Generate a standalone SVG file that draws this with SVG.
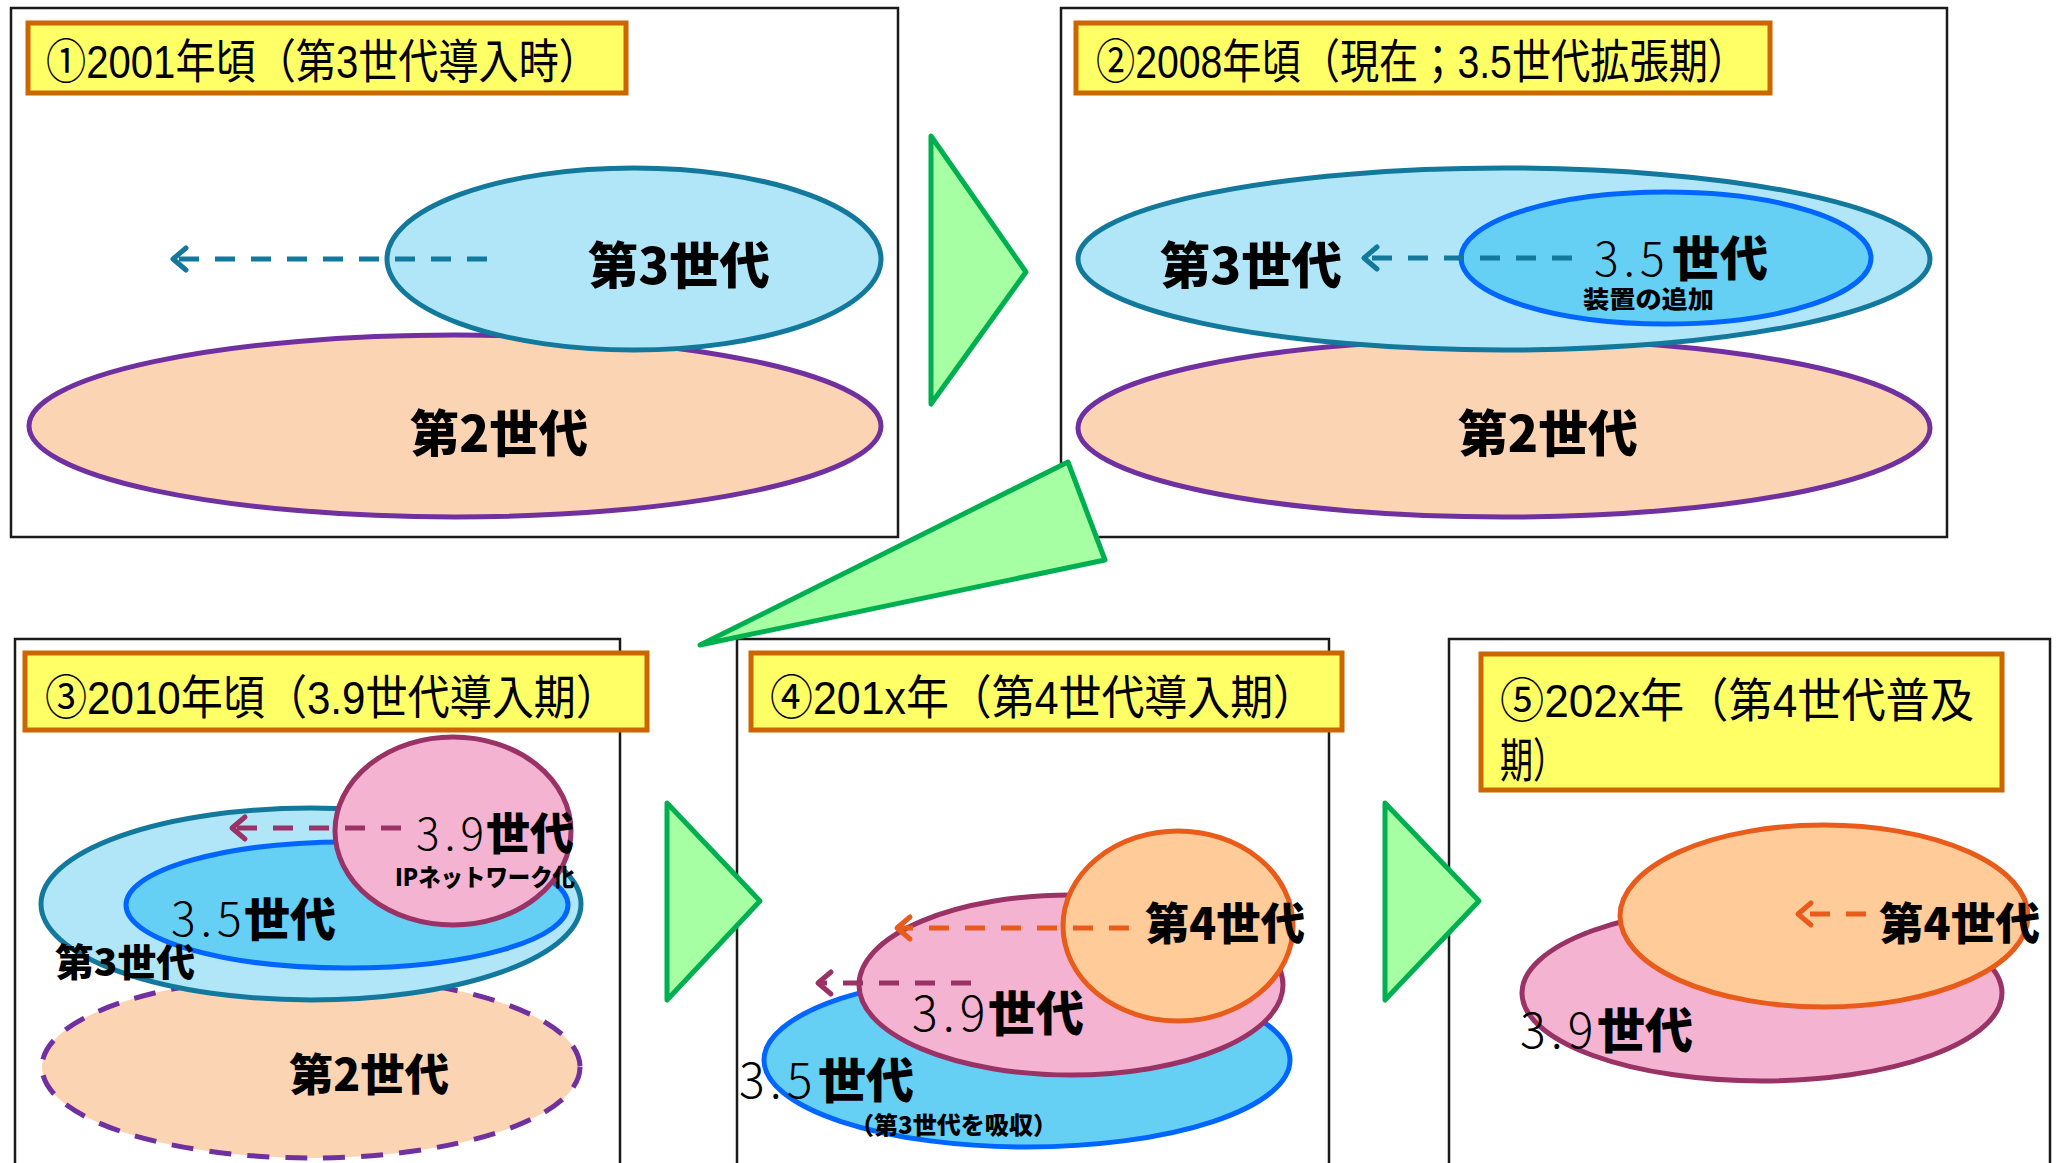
<svg xmlns="http://www.w3.org/2000/svg" width="2063" height="1163" viewBox="0 0 2063 1163">
<style>
.panel{fill:#fff;stroke:#1a1a1a;stroke-width:2.5}
.tbox{fill:#FFFF66;stroke:#CC6600;stroke-width:5}
.ttl{font-family:"Liberation Sans","Noto Sans CJK JP",sans-serif;font-size:47px;fill:#000}
.g3{fill:#B0E6F8;stroke:#12789C;stroke-width:5}
.g35{fill:#66CFF4;stroke:#0066FF;stroke-width:5}
.g2{fill:#FBD4B3;stroke:#7030A0;stroke-width:5}
.g2d{fill:#FBD4B3;stroke:#7030A0;stroke-width:5;stroke-dasharray:22 16}
.g39{fill:#F4B3D1;stroke:#993366;stroke-width:5}
.g4{fill:#FFCC99;stroke:#E85B1A;stroke-width:5}
.tri{fill:#A6FFA3;stroke:#00B050;stroke-width:5;stroke-linejoin:round}
.heavy{font-family:"Noto Sans CJK JP",sans-serif;font-weight:900;fill:#000}
.thin{font-family:"Noto Sans CJK JP",sans-serif;font-weight:300;fill:#000}
.dash{fill:none;stroke-width:5;stroke-dasharray:20 16}
</style>
<defs>
<marker id="hTeal" markerUnits="userSpaceOnUse" markerWidth="40" markerHeight="40" viewBox="-20 -20 40 40" refX="0" refY="0" orient="auto" overflow="visible"><path d="M-13,-11 L0,0 L-13,11" fill="none" stroke="#12789C" stroke-width="5" stroke-linecap="round" stroke-linejoin="round"/></marker>
<marker id="hMaroon" markerUnits="userSpaceOnUse" markerWidth="40" markerHeight="40" viewBox="-20 -20 40 40" refX="0" refY="0" orient="auto" overflow="visible"><path d="M-13,-11 L0,0 L-13,11" fill="none" stroke="#993366" stroke-width="5" stroke-linecap="round" stroke-linejoin="round"/></marker>
<marker id="hOrange" markerUnits="userSpaceOnUse" markerWidth="40" markerHeight="40" viewBox="-20 -20 40 40" refX="0" refY="0" orient="auto" overflow="visible"><path d="M-13,-11 L0,0 L-13,11" fill="none" stroke="#E85B1A" stroke-width="5" stroke-linecap="round" stroke-linejoin="round"/></marker>
</defs>
<rect width="2063" height="1163" fill="#fff"/>

<g id="panel1">
<rect class="panel" x="11" y="8" width="887" height="529"/>
<rect class="tbox" x="28" y="23" width="598" height="70"/>
<text class="ttl" x="46" y="78" textLength="553" lengthAdjust="spacingAndGlyphs">①2001年頃（第3世代導入時）</text>
<ellipse class="g2" cx="455" cy="426" rx="426" ry="91"/>
<ellipse class="g3" cx="634" cy="259" rx="247" ry="91"/>
<text class="heavy" x="588" y="284" font-size="50" textLength="182" lengthAdjust="spacingAndGlyphs">第3世代</text>
<text class="heavy" x="410" y="452" font-size="50" textLength="178" lengthAdjust="spacingAndGlyphs">第2世代</text>
</g>

<g id="panel2">
<rect class="panel" x="1061" y="8" width="886" height="529"/>
<rect class="tbox" x="1076" y="23" width="694" height="70"/>
<text class="ttl" x="1096" y="78" textLength="651" lengthAdjust="spacingAndGlyphs">②2008年頃（現在；3.5世代拡張期）</text>
<ellipse class="g2" cx="1504" cy="428" rx="426" ry="89"/>
<ellipse class="g3" cx="1504" cy="259" rx="426" ry="91"/>
<ellipse class="g35" cx="1666" cy="258" rx="205" ry="66"/>
<text class="heavy" x="1160" y="284" font-size="50" textLength="182" lengthAdjust="spacingAndGlyphs">第3世代</text>
<text x="1594" y="276"><tspan class="thin" font-size="46" letter-spacing="5">3.5</tspan><tspan class="heavy" x="1672" font-size="48">世代</tspan></text>
<text class="heavy" x="1583" y="308" font-size="24" textLength="131" lengthAdjust="spacingAndGlyphs">装置の追加</text>
<text class="heavy" x="1458" y="452" font-size="50" textLength="180" lengthAdjust="spacingAndGlyphs">第2世代</text>
</g>

<g id="panel3">
<rect class="panel" x="15" y="639" width="605" height="540"/>
<rect class="tbox" x="25" y="653" width="622" height="77"/>
<text class="ttl" x="45" y="714" font-size="48" textLength="573" lengthAdjust="spacingAndGlyphs">③2010年頃（3.9世代導入期）</text>
<ellipse class="g2d" cx="311" cy="1067" rx="269" ry="91"/>
<ellipse class="g3" cx="311" cy="904" rx="270" ry="96"/>
<ellipse class="g35" cx="347" cy="905" rx="221" ry="63"/>
<ellipse class="g39" cx="453" cy="831" rx="118" ry="94"/>
<text x="416" y="850"><tspan class="thin" font-size="44" letter-spacing="5">3.9</tspan><tspan class="heavy" x="486" font-size="44">世代</tspan></text>
<text class="heavy" x="395" y="886" font-size="24" textLength="180" lengthAdjust="spacingAndGlyphs">IPネットワーク化</text>
<text x="171" y="936"><tspan class="thin" font-size="46" letter-spacing="5">3.5</tspan><tspan class="heavy" x="244" font-size="46">世代</tspan></text>
<text class="heavy" x="55" y="976" font-size="38" textLength="140" lengthAdjust="spacingAndGlyphs">第3世代</text>
<text class="heavy" x="289" y="1091" font-size="44" textLength="160" lengthAdjust="spacingAndGlyphs">第2世代</text>
</g>

<g id="panel4">
<rect class="panel" x="737" y="639" width="592" height="540"/>
<rect class="tbox" x="751" y="653" width="591" height="77"/>
<text class="ttl" x="770" y="714" font-size="48" textLength="546" lengthAdjust="spacingAndGlyphs">④201x年（第4世代導入期）</text>
<ellipse class="g35" cx="1027" cy="1060" rx="263" ry="87"/>
<ellipse class="g39" cx="1071" cy="985" rx="212" ry="90"/>
<ellipse class="g4" cx="1178" cy="926" rx="115" ry="95"/>
<text class="heavy" x="1145" y="940" font-size="44" textLength="160" lengthAdjust="spacingAndGlyphs">第4世代</text>
<text x="912" y="1031"><tspan class="thin" font-size="48" letter-spacing="5">3.9</tspan><tspan class="heavy" x="988" font-size="48">世代</tspan></text>
<text x="739" y="1098"><tspan class="thin" font-size="48" letter-spacing="5">3.5</tspan><tspan class="heavy" x="818" font-size="48">世代</tspan></text>
<text class="heavy" x="850" y="1134" font-size="24" textLength="207" lengthAdjust="spacingAndGlyphs">（第3世代を吸収）</text>
</g>

<g id="panel5">
<rect class="panel" x="1449" y="639" width="601" height="540"/>
<rect class="tbox" x="1481" y="654" width="521" height="136"/>
<text class="ttl" x="1500" y="717" font-size="48" textLength="474" lengthAdjust="spacingAndGlyphs">⑤202x年（第4世代普及</text>
<text class="ttl" x="1500" y="777" font-size="48" textLength="66" lengthAdjust="spacingAndGlyphs">期）</text>
<ellipse class="g39" cx="1762" cy="993" rx="240" ry="88"/>
<ellipse class="g4" cx="1824" cy="916" rx="204" ry="91"/>
<text class="heavy" x="1879" y="940" font-size="44" textLength="161" lengthAdjust="spacingAndGlyphs">第4世代</text>
<text x="1520" y="1048"><tspan class="thin" font-size="48" letter-spacing="5">3.9</tspan><tspan class="heavy" x="1597" font-size="48">世代</tspan></text>
</g>

<g id="connectors">
<line class="dash" x1="487" y1="259" x2="173" y2="259" stroke="#12789C" marker-end="url(#hTeal)"/>
<line class="dash" x1="1572" y1="258" x2="1364" y2="258" stroke="#12789C" marker-end="url(#hTeal)"/>
<line class="dash" x1="401" y1="828" x2="232" y2="828" stroke="#993366" marker-end="url(#hMaroon)"/>
<line class="dash" x1="1129" y1="928" x2="897" y2="928" stroke="#E85B1A" marker-end="url(#hOrange)"/>
<line class="dash" x1="971" y1="983" x2="818" y2="983" stroke="#993366" marker-end="url(#hMaroon)"/>
<line class="dash" x1="1866" y1="914" x2="1798" y2="914" stroke="#E85B1A" marker-end="url(#hOrange)"/>
<polygon class="tri" points="931,136 1026,272 931,404"/>
<polygon class="tri" points="1068,462 1105,560 700,645"/>
<polygon class="tri" points="667,803 760,901 667,1000"/>
<polygon class="tri" points="1385,803 1479,901 1385,1000"/>
</g>
</svg>
